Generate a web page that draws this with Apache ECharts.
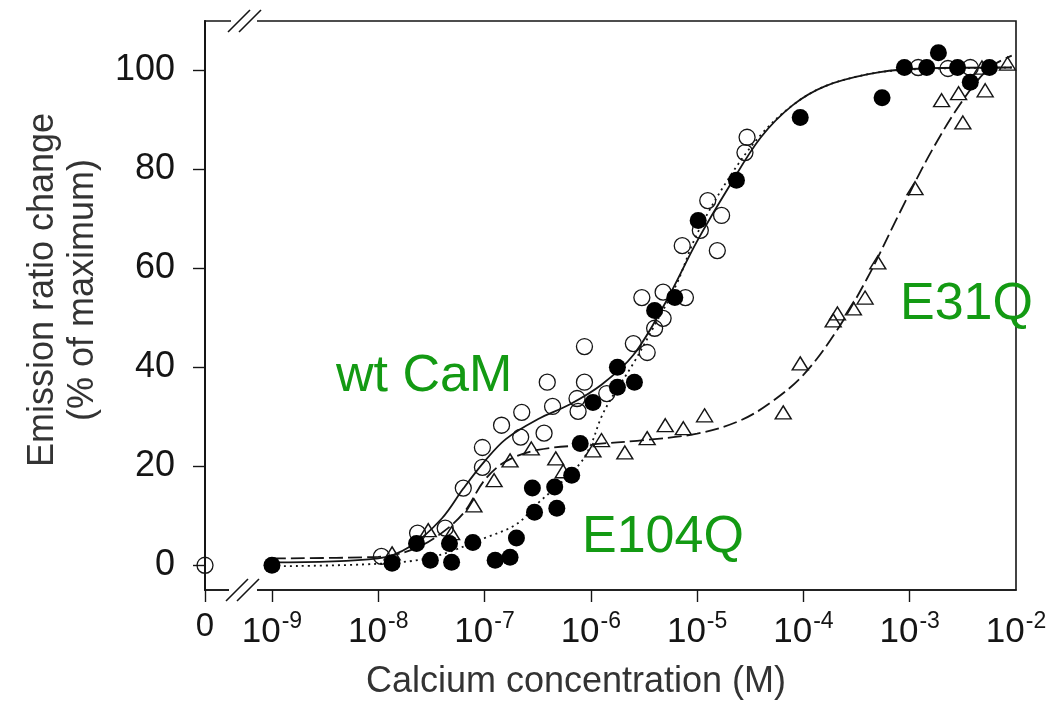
<!DOCTYPE html>
<html>
<head>
<meta charset="utf-8">
<script src="https://cdn.jsdelivr.net/npm/echarts@6/dist/echarts.min.js"></script>
<style>
  html, body { margin: 0; padding: 0; background: #fff; }
  #calcium-titration { width: 1062px; height: 722px; }
</style>
</head>
<body>
<div id="calcium-titration"></div>
<script>
// x values are log10 of the calcium concentration (M), y is % of maximum
const ZERO_POS = -9.63; // where the "0 M" point sits, left of the axis break
const xTickExps = [-9, -8, -7, -6, -5, -4, -3, -2];
const yTicks = [0, 20, 40, 60, 80, 100];

// measured points
const wtZero = [0];
const wtPoints = [
  [-7.97, 1.8], [-7.63, 6.5], [-7.37, 7.5], [-7.20, 15.6], [-7.02, 19.8],
  [-7.02, 23.8], [-6.84, 28.3], [-6.65, 30.9], [-6.66, 25.9], [-6.44, 26.7],
  [-6.41, 37.0], [-6.36, 32.1], [-6.12, 31.1], [-6.13, 33.7], [-6.06, 37.0],
  [-6.06, 44.2], [-5.85, 34.7], [-5.60, 44.8], [-5.47, 43.0], [-5.40, 47.9],
  [-5.32, 49.9], [-5.52, 54.1], [-5.32, 55.2], [-5.11, 54.1], [-5.14, 64.6],
  [-4.97, 67.7], [-4.90, 73.7], [-4.77, 70.7], [-4.81, 63.6], [-4.55, 83.4],
  [-4.53, 86.5], [-2.92, 100.6], [-2.64, 100.4], [-2.43, 100.6]
];
const e104qPoints = [
  [-9.00, 0.0], [-7.87, 0.4], [-7.64, 4.4], [-7.51, 1.0], [-7.31, 0.6],
  [-7.33, 4.4], [-7.11, 4.6], [-6.90, 1.0], [-6.76, 1.6], [-6.70, 5.5],
  [-6.55, 15.6], [-6.34, 15.8], [-6.53, 10.7], [-6.32, 11.5], [-6.18, 18.2],
  [-6.10, 24.6], [-5.98, 32.9], [-5.75, 36.0], [-5.59, 37.0], [-5.75, 40.0],
  [-5.40, 51.5], [-5.21, 54.1], [-4.99, 69.7], [-4.63, 77.8], [-4.03, 90.5],
  [-3.26, 94.5], [-3.05, 100.6], [-2.84, 100.6], [-2.73, 103.6], [-2.55, 100.6],
  [-2.43, 97.6], [-2.25, 100.6]
];
const e31qPoints = [
  [-7.87, 2.4], [-7.53, 7.1], [-7.31, 6.5], [-7.10, 12.1], [-6.91, 17.2],
  [-6.76, 21.2], [-6.56, 23.6], [-6.33, 21.6], [-6.26, 19.0], [-5.98, 23.2],
  [-5.90, 25.3], [-5.68, 22.8], [-5.47, 25.7], [-5.30, 28.3], [-5.13, 27.7],
  [-4.93, 30.3], [-4.19, 30.9], [-4.03, 40.8], [-3.72, 49.5], [-3.68, 50.9],
  [-3.53, 51.9], [-3.42, 54.1], [-3.30, 61.2], [-2.95, 76.2], [-2.70, 94.0],
  [-2.54, 95.4], [-2.50, 89.5], [-2.29, 96.0], [-2.32, 100.6], [-2.08, 101.4]
];

// fitted curves
const wtCurve = [
  [-9.0, 0.6], [-8.0, 1.4], [-7.7, 3.8], [-7.4, 9.5], [-7.2, 15.5], [-7.0, 21.0],
  [-6.8, 25.5], [-6.5, 29.5], [-6.2, 32.5], [-5.9, 36.5], [-5.6, 42.5], [-5.3, 53.0],
  [-5.0, 65.5], [-4.7, 76.5], [-4.4, 86.5], [-4.1, 93.0], [-3.8, 96.8], [-3.4, 99.2],
  [-3.0, 100.3], [-2.04, 100.6]
];
const e104qCurve = [
  [-9.0, -0.2], [-8.0, 0.3], [-7.5, 1.6], [-7.0, 5.5], [-6.7, 8.3], [-6.5, 12.5],
  [-6.3, 16.3], [-6.1, 20.6], [-6.0, 24.3], [-5.9, 30.0], [-5.8, 34.0], [-5.6, 40.8],
  [-5.4, 48.5], [-5.2, 56.5], [-5.0, 67.0], [-4.7, 78.3], [-4.4, 87.0], [-4.1, 93.0],
  [-3.8, 96.8], [-3.4, 99.2], [-3.0, 100.2], [-2.04, 100.6]
];
const e31qCurve = [
  [-9.0, 1.4], [-8.0, 1.7], [-7.7, 3.0], [-7.45, 5.8], [-7.2, 10.5], [-7.0, 17.2],
  [-6.8, 21.0], [-6.5, 23.3], [-6.0, 24.4], [-5.5, 25.3], [-5.0, 26.6], [-4.6, 29.2],
  [-4.3, 33.0], [-4.0, 38.5], [-3.7, 47.0], [-3.4, 58.0], [-3.1, 71.0], [-2.8, 83.5],
  [-2.5, 94.0], [-2.25, 100.5], [-2.04, 103.0]
];

const FONT = "'Liberation Sans', Arial, sans-serif";
const INK = "#151515";

const curve = (name, data, type) => ({
  name: name,
  type: "line",
  data: data,
  smooth: 0.35,
  showSymbol: false,
  silent: true,
  z: 2,
  lineStyle: { color: INK, width: 1.8, type: type }
});

const options = {
  backgroundColor: "#fff",
  animation: false,
  grid: { left: 205, right: 46, top: 21, bottom: 132, show: true, borderColor: INK, borderWidth: 1.6 },
  xAxis: {
    type: "value",
    min: ZERO_POS,
    max: -2,
    splitLine: { show: false },
    axisLine: { onZero: false, lineStyle: { color: INK, width: 1.6 } },
    axisTick: { customValues: [ZERO_POS].concat(xTickExps.slice(0, -1)), length: 12, lineStyle: { color: INK, width: 1.4 } },
    axisLabel: {
      customValues: [ZERO_POS].concat(xTickExps),
      margin: 20,
      formatter: function (v) {
        if (v < -9.5) return "{z|0}";
        return "{b|10}{s|" + Math.round(v) + "}";
      },
      rich: {
        z: { fontFamily: FONT, fontSize: 33, color: INK, padding: [0, 0, 10, 0] },
        b: { fontFamily: FONT, fontSize: 35, color: INK },
        s: { fontFamily: FONT, fontSize: 23, color: INK, padding: [0, 0, 22, 1] }
      }
    }
  },
  yAxis: {
    type: "value",
    min: -5,
    max: 110,
    splitLine: { show: false },
    axisLine: { onZero: false, lineStyle: { color: INK, width: 2 } },
    axisTick: { customValues: yTicks, length: 12, lineStyle: { color: INK, width: 1.4 } },
    axisLabel: {
      customValues: yTicks,
      margin: 30,
      fontFamily: FONT,
      fontSize: 36,
      color: INK
    }
  },
  graphic: [
    // axis breaks
    { type: "rect", shape: { x: 229, y: 584, width: 28, height: 12 }, style: { fill: "#fff" }, z: 100 },
    { type: "line", shape: { x1: 226, y1: 601, x2: 248, y2: 579 }, style: { stroke: INK, lineWidth: 1.6 }, z: 101 },
    { type: "line", shape: { x1: 237, y1: 601, x2: 259, y2: 579 }, style: { stroke: INK, lineWidth: 1.6 }, z: 101 },
    { type: "rect", shape: { x: 231, y: 15, width: 26, height: 12 }, style: { fill: "#fff" }, z: 100 },
    { type: "line", shape: { x1: 228, y1: 32, x2: 250, y2: 10 }, style: { stroke: INK, lineWidth: 1.6 }, z: 101 },
    { type: "line", shape: { x1: 239, y1: 32, x2: 261, y2: 10 }, style: { stroke: INK, lineWidth: 1.6 }, z: 101 },
    // axis titles
    {
      type: "text", x: 576, y: 682,
      style: { text: "Calcium concentration (M)", font: "36px " + FONT, fill: "#333", align: "center", verticalAlign: "middle" }
    },
    {
      type: "text", x: 63, y: 290, rotation: Math.PI / 2,
      style: { text: "Emission ratio change\n(% of maximum)", font: "36px " + FONT, lineHeight: 40, fill: "#333", align: "center", verticalAlign: "middle" }
    },
    // series labels
    { type: "text", x: 336, y: 377, style: { text: "wt CaM", font: "52px " + FONT, fill: "#139a13", verticalAlign: "middle" } },
    { type: "text", x: 582, y: 538, style: { text: "E104Q", font: "52px " + FONT, fill: "#139a13", verticalAlign: "middle" } },
    { type: "text", x: 900, y: 305, style: { text: "E31Q", font: "52px " + FONT, fill: "#139a13", verticalAlign: "middle" } }
  ],
  series: [
    curve("wt CaM fit", wtCurve, "solid"),
    curve("E104Q fit", e104qCurve, [2, 4]),
    curve("E31Q fit", e31qCurve, [14, 5]),
    {
      name: "E31Q",
      type: "scatter",
      data: e31qPoints,
      symbol: "triangle",
      symbolSize: [16, 13],
      z: 3,
      itemStyle: { color: "rgba(255,255,255,0)", borderColor: INK, borderWidth: 1.4, opacity: 1 }
    },
    {
      name: "wt CaM",
      type: "scatter",
      data: wtPoints.concat(wtZero.map(v => [ZERO_POS, v])),
      symbol: "circle",
      symbolSize: 16,
      z: 4,
      itemStyle: { color: "rgba(255,255,255,0)", borderColor: INK, borderWidth: 1.3, opacity: 1 }
    },
    {
      name: "E104Q",
      type: "scatter",
      data: e104qPoints,
      symbol: "circle",
      symbolSize: 17,
      z: 5,
      itemStyle: { color: "#000", opacity: 1 }
    }
  ]
};

const el = document.getElementById("calcium-titration");
const chart = echarts.init(el);
chart.setOption(options);
</script>
</body>
</html>
